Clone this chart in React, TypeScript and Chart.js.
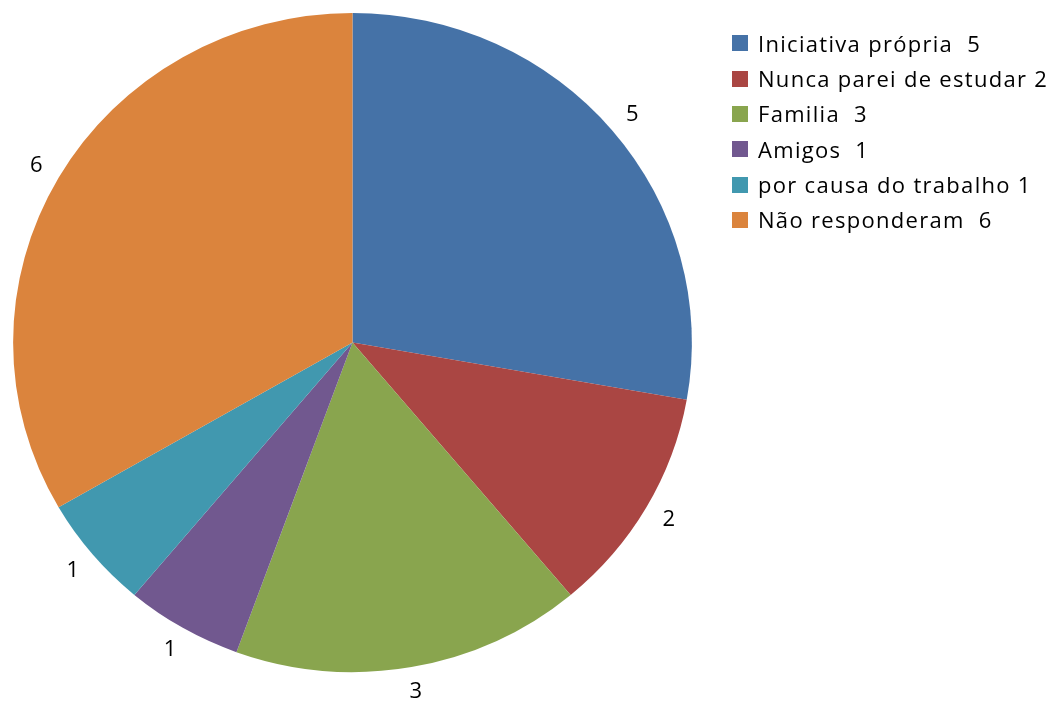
import React, { useEffect, useRef } from "react";
import { Chart, registerables } from "chart.js";

Chart.register(...registerables);

const categories = [
  "Iniciativa própria  5",
  "Nunca parei de estudar 2",
  "Familia  3",
  "Amigos  1",
  "por causa do trabalho 1",
  "Não responderam  6",
];
const values = [5, 2, 3, 1, 1, 6];
const colors = ["#4572A7", "#AA4643", "#89A54E", "#71588F", "#4198AF", "#DB843D"];

const FONT = "'Open Sans', 'DejaVu Sans', sans-serif";
const SX = 1.03; // slight horizontal stretch of the reference pie

const stretchPlugin = {
  id: "stretch",
  beforeDatasetsDraw(chart: any) {
    const meta = chart.getDatasetMeta(0);
    const arc = meta.data[0];
    if (!arc) return;
    const { ctx } = chart;
    ctx.save();
    ctx.translate(arc.x, arc.y);
    ctx.scale(SX, 1);
    ctx.translate(-arc.x, -arc.y);
  },
  afterDatasetsDraw(chart: any) {
    const meta = chart.getDatasetMeta(0);
    if (!meta.data[0]) return;
    chart.ctx.restore();
    // value labels outside slices
    const ctx = chart.ctx;
    ctx.save();
    ctx.font = `22px ${FONT}`;
    ctx.fillStyle = "#000";
    ctx.textAlign = "center";
    ctx.textBaseline = "middle";
    const ds = chart.data.datasets[0];
    meta.data.forEach((el: any, i: number) => {
      const mid = (el.startAngle + el.endAngle) / 2;
      const r = el.outerRadius + 25;
      const x = el.x + Math.cos(mid) * r * SX;
      const y = el.y + Math.sin(mid) * r;
      ctx.fillText(String(ds.data[i]), x, y);
    });
    ctx.restore();
  },
};

export default function App() {
  const ref = useRef<HTMLCanvasElement>(null);
  useEffect(() => {
    if (!ref.current) return;
    const chart = new Chart(ref.current, {
      type: "pie",
      data: {
        labels: categories,
        datasets: [
          {
            data: values,
            backgroundColor: colors,
            borderWidth: 0,
          },
        ],
      },
      options: {
        animation: false,
        responsive: false,
        layout: { padding: { left: 23, top: 13, right: 373, bottom: 31 } },
        plugins: {
          legend: { display: false },
          tooltip: { enabled: false },
        },
      },
      plugins: [stretchPlugin],
    });
    return () => chart.destroy();
  }, []);

  return (
    <div style={{ position: "absolute", left: 0, top: 0, width: 1055, height: 703, background: "#fff" }}>
      <canvas ref={ref} width={1055} height={703} style={{ position: "absolute", left: 0, top: 0 }} />
      <div style={{ position: "absolute", left: 732, top: 25.7 }}>
        {categories.map((c, i) => (
          <div key={i} style={{ display: "flex", alignItems: "center", height: 35.3 }}>
            <div style={{ width: 16, height: 16, background: colors[i], marginRight: 10 }} />
            <span style={{ fontFamily: FONT, fontSize: 22, whiteSpace: "pre", letterSpacing: 1.3, color: "#000", lineHeight: "35px" }}>
              {c}
            </span>
          </div>
        ))}
      </div>
    </div>
  );
}
